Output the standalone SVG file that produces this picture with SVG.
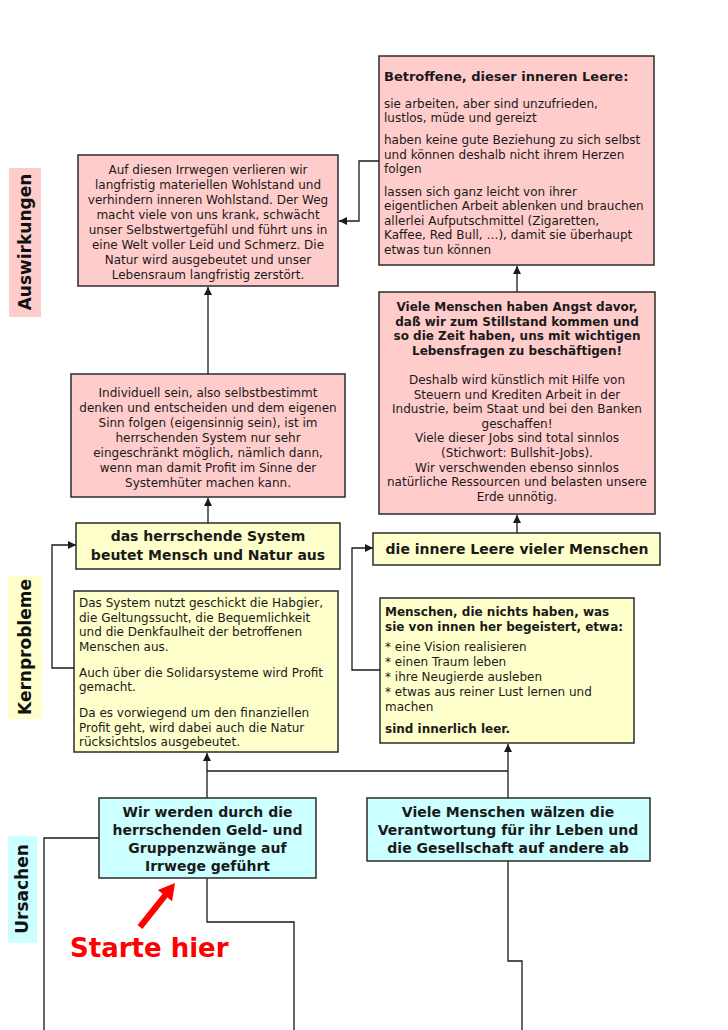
<svg xmlns="http://www.w3.org/2000/svg" width="728" height="1030" viewBox="0 0 728 1030">
<defs>
<style>
.box{stroke:#2b2b2b;stroke-width:1.5}
.pink{fill:#ffcccc}.yellow{fill:#ffffcc}.cyan{fill:#ccffff}
text{font-family:"DejaVu Sans",Verdana,sans-serif;font-size:12px;fill:#1a1a1a}
.b{font-weight:bold}
.c{text-anchor:middle}
.h13{font-size:13px}
.h14{font-size:14px}
.lab{font-size:17px;font-weight:bold;text-anchor:middle;fill:#111}
#connectors path{fill:none;stroke:#1a1a1a;stroke-width:1.3}
</style>
<marker id="ah" viewBox="0 0 8 8" refX="8" refY="4" markerWidth="8" markerHeight="8" markerUnits="userSpaceOnUse" orient="auto">
<path d="M0,0 L8,4 L0,8 z" fill="#1a1a1a"/>
</marker>
</defs>
<rect width="728" height="1030" fill="#ffffff"/>

<g id="label-auswirkungen">
<rect x="9" y="168" width="32" height="149" class="pink"/>
<text class="lab" transform="translate(25,242) rotate(-90)" y="6">Auswirkungen</text>
</g>
<g id="label-kernprobleme">
<rect x="8" y="576" width="34" height="143" class="yellow"/>
<text class="lab" transform="translate(25,647) rotate(-90)" y="6">Kernprobleme</text>
</g>
<g id="label-ursachen">
<rect x="8" y="836" width="29" height="107" class="cyan"/>
<text class="lab" transform="translate(22,889) rotate(-90)" y="6">Ursachen</text>
</g>

<g id="connectors">
<path d="M379,161 H359 V221 H339" marker-end="url(#ah)"/>
<path d="M208,374 V287" marker-end="url(#ah)"/>
<path d="M517,292 V266" marker-end="url(#ah)"/>
<path d="M208,523 V498" marker-end="url(#ah)"/>
<path d="M517,533 V515" marker-end="url(#ah)"/>
<path d="M74,668 H52 V545 H76" marker-end="url(#ah)"/>
<path d="M380,670 H352 V548 H373" marker-end="url(#ah)"/>
<path d="M207,798 V753" marker-end="url(#ah)"/>
<path d="M508,798 V744" marker-end="url(#ah)"/>
<path d="M207,771 H508"/>
<path d="M99,838 H44 V1030"/>
<path d="M207,878 V922 H294 V1030"/>
<path d="M508,861 V961 H522 V1030"/>
</g>

<g id="betroffene">
<rect x="379" y="56" width="275" height="209" class="box pink"/>
<text x="384" y="81" class="b h13">Betroffene, dieser inneren Leere:</text>
<text x="384" y="107.5">sie arbeiten, aber sind unzufrieden,</text>
<text x="384" y="122">lustlos, müde und gereizt</text>
<text x="384" y="144">haben keine gute Beziehung zu sich selbst</text>
<text x="384" y="158.5">und können deshalb nicht ihrem Herzen</text>
<text x="384" y="173">folgen</text>
<text x="384" y="195.5">lassen sich ganz leicht von ihrer</text>
<text x="384" y="210">eigentlichen Arbeit ablenken und brauchen</text>
<text x="384" y="224.5">allerlei Aufputschmittel (Zigaretten,</text>
<text x="384" y="239">Kaffee, Red Bull, …), damit sie überhaupt</text>
<text x="384" y="253.5">etwas tun können</text>
</g>

<g id="irrwege">
<rect x="78" y="155" width="260" height="131" class="box pink"/>
<text x="208" y="174" class="c">Auf diesen Irrwegen verlieren wir</text>
<text x="208" y="189" class="c">langfristig materiellen Wohlstand und</text>
<text x="208" y="204" class="c">verhindern inneren Wohlstand. Der Weg</text>
<text x="208" y="219" class="c">macht viele von uns krank, schwächt</text>
<text x="208" y="234" class="c">unser Selbstwertgefühl und führt uns in</text>
<text x="208" y="249" class="c">eine Welt voller Leid und Schmerz. Die</text>
<text x="208" y="264" class="c">Natur wird ausgebeutet und unser</text>
<text x="208" y="279" class="c">Lebensraum langfristig zerstört.</text>
</g>

<g id="individuell">
<rect x="71" y="374" width="274" height="123" class="box pink"/>
<text x="208" y="397" class="c">Individuell sein, also selbstbestimmt</text>
<text x="208" y="412" class="c">denken und entscheiden und dem eigenen</text>
<text x="208" y="427" class="c">Sinn folgen (eigensinnig sein), ist im</text>
<text x="208" y="442" class="c">herrschenden System nur sehr</text>
<text x="208" y="457" class="c">eingeschränkt möglich, nämlich dann,</text>
<text x="208" y="472" class="c">wenn man damit Profit im Sinne der</text>
<text x="208" y="487" class="c">Systemhüter machen kann.</text>
</g>

<g id="angst">
<rect x="379" y="292" width="276" height="222" class="box pink"/>
<text x="517" y="311" class="c b">Viele Menschen haben Angst davor,</text>
<text x="517" y="325.5" class="c b">daß wir zum Stillstand kommen und</text>
<text x="517" y="340" class="c b">so die Zeit haben, uns mit wichtigen</text>
<text x="517" y="354.5" class="c b">Lebensfragen zu beschäftigen!</text>
<text x="517" y="384" class="c">Deshalb wird künstlich mit Hilfe von</text>
<text x="517" y="398.6" class="c">Steuern und Krediten Arbeit in der</text>
<text x="517" y="413.2" class="c">Industrie, beim Staat und bei den Banken</text>
<text x="517" y="427.8" class="c">geschaffen!</text>
<text x="517" y="442.4" class="c">Viele dieser Jobs sind total sinnlos</text>
<text x="517" y="457" class="c">(Stichwort: Bullshit-Jobs).</text>
<text x="517" y="471.6" class="c">Wir verschwenden ebenso sinnlos</text>
<text x="517" y="486.2" class="c">natürliche Ressourcen und belasten unsere</text>
<text x="517" y="500.8" class="c">Erde unnötig.</text>
</g>

<g id="system">
<rect x="76" y="523" width="264" height="46" class="box yellow"/>
<text x="208" y="541" class="c b h14">das herrschende System</text>
<text x="208" y="560" class="c b h14">beutet Mensch und Natur aus</text>
</g>

<g id="leere">
<rect x="373" y="533" width="287" height="32" class="box yellow"/>
<text x="517" y="554" class="c b h14">die innere Leere vieler Menschen</text>
</g>

<g id="system-detail">
<rect x="74" y="591" width="264" height="161" class="box yellow"/>
<text x="79" y="607">Das System nutzt geschickt die Habgier,</text>
<text x="79" y="621.5">die Geltungssucht, die Bequemlichkeit</text>
<text x="79" y="636">und die Denkfaulheit der betroffenen</text>
<text x="79" y="650.5">Menschen aus.</text>
<text x="79" y="676.5">Auch über die Solidarsysteme wird Profit</text>
<text x="79" y="691">gemacht.</text>
<text x="79" y="717">Da es vorwiegend um den finanziellen</text>
<text x="79" y="731.5">Profit geht, wird dabei auch die Natur</text>
<text x="79" y="746">rücksichtslos ausgebeutet.</text>
</g>

<g id="leere-detail">
<rect x="380" y="598" width="254" height="145" class="box yellow"/>
<text x="385" y="616" class="b">Menschen, die nichts haben, was</text>
<text x="385" y="631" class="b">sie von innen her begeistert, etwa:</text>
<text x="385" y="651">* eine Vision realisieren</text>
<text x="385" y="666">* einen Traum leben</text>
<text x="385" y="681">* ihre Neugierde ausleben</text>
<text x="385" y="696">* etwas aus reiner Lust lernen und</text>
<text x="385" y="711">machen</text>
<text x="385" y="733" class="b">sind innerlich leer.</text>
</g>

<g id="zwaenge">
<rect x="99" y="798" width="217" height="80" class="box cyan"/>
<text x="207.5" y="817" class="c b h14">Wir werden durch die</text>
<text x="207.5" y="835" class="c b h14">herrschenden Geld- und</text>
<text x="207.5" y="853" class="c b h14">Gruppenzwänge auf</text>
<text x="207.5" y="871" class="c b h14">Irrwege geführt</text>
</g>

<g id="verantwortung">
<rect x="367" y="798" width="283" height="63" class="box cyan"/>
<text x="508" y="817" class="c b h14">Viele Menschen wälzen die</text>
<text x="508" y="835" class="c b h14">Verantwortung für ihr Leben und</text>
<text x="508" y="853" class="c b h14">die Gesellschaft auf andere ab</text>
</g>

<g id="start">
<polygon points="175,883 172.1,901.2 167.4,897.5 142.4,928.9 137.6,925.1 162.6,893.7 157.9,890" fill="#ff0000"/>
<text x="70" y="957" style="font-size:26px;font-weight:bold;fill:#ff0000">Starte hier</text>
</g>
</svg>
